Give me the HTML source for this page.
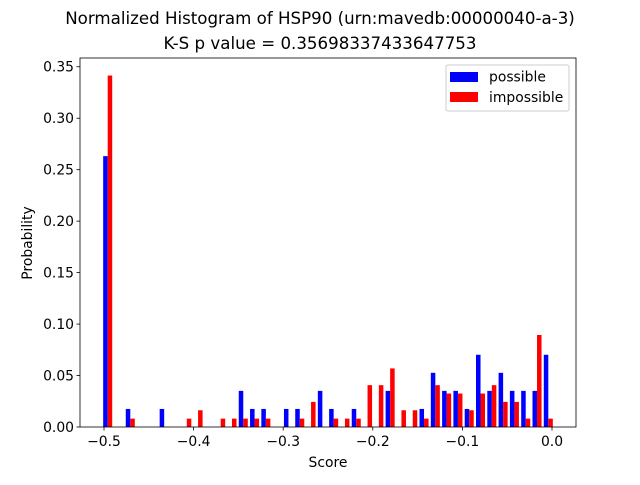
<!DOCTYPE html>
<html><head><meta charset="utf-8"><style>
body{margin:0;background:#fff;}
svg text{font-family:"DejaVu Sans","Liberation Sans",sans-serif;}
</style></head><body>
<svg id="chart" width="640" height="480" xmlns="http://www.w3.org/2000/svg">
<rect width="640" height="480" fill="#fff"/>
<text x="320" y="24" text-anchor="middle" font-size="16.67">Normalized Histogram of HSP90 (urn:mavedb:00000040-a-3)</text>
<text x="320" y="49" text-anchor="middle" font-size="16.67">K-S p value = 0.35698337433647753</text>
<g id="bars"></g>
<g id="axes"></g>
<text x="328" y="467" text-anchor="middle" font-size="13.9">Score</text>
<text x="32" y="243" text-anchor="middle" font-size="13.9" transform="rotate(-90 32 243)">Probability</text>
<g>
<rect x="446" y="65" width="123" height="46" rx="2" fill="#fff" fill-opacity="0.8" stroke="#ccc"/>
<rect x="450" y="72" width="28" height="10" fill="#0000ff"/>
<text x="489" y="81.5" font-size="13.9">possible</text>
<rect x="450" y="92" width="28" height="10" fill="#ff0000"/>
<text x="489" y="102" font-size="13.9">impossible</text>
</g>
</svg>
<script>
const binStart = -0.5022;
const binEnd = 0.0022;
const possibleCounts = [15,0,1,0,0,1,0,0,0,0,0,0,2,1,1,0,1,1,0,2,1,0,1,0,0,2,0,0,1,3,2,2,1,4,2,3,2,2,2,4];
const impossibleCounts = [42,0,1,0,0,0,0,1,2,0,1,1,1,1,1,0,0,1,3,0,1,1,1,5,5,7,2,2,1,5,4,4,2,4,5,3,3,1,11,1];
const yTicks = [0,0.05,0.10,0.15,0.20,0.25,0.30,0.35];
const yTickLabels = ["0.00","0.05","0.10","0.15","0.20","0.25","0.30","0.35"];
const xTicks = [-0.5,-0.4,-0.3,-0.2,-0.1,0.0];
const xTickLabels = ["\u22120.5","\u22120.4","\u22120.3","\u22120.2","\u22120.1","0.0"];

const L=80,R=576,T=58,B=427;
const xMin=-0.5268,xMax=0.0268,yMin=0,yMax=0.3585;
const sx=v=>L+(v-xMin)/(xMax-xMin)*(R-L);
const sy=v=>B-(v-yMin)/(yMax-yMin)*(B-T);
const NS="http://www.w3.org/2000/svg";
function mk(tag,attrs,parent){const e=document.createElementNS(NS,tag);for(const k in attrs)e.setAttribute(k,attrs[k]);parent.appendChild(e);return e;}
const bars=document.getElementById('bars'),axes=document.getElementById('axes');
const n=possibleCounts.length,bw=(binEnd-binStart)/n;
const sumP=possibleCounts.reduce((a,b)=>a+b,0),sumI=impossibleCounts.reduce((a,b)=>a+b,0);
for(let i=0;i<n;i++){
  const x0=binStart+i*bw;
  const series=[[possibleCounts[i]/sumP,'#0000ff','possible',0.1],[impossibleCounts[i]/sumI,'#ff0000','impossible',0.5]];
  for(const [v,c,name,off] of series){
    if(v<=0)continue;
    const xa=sx(x0+off*bw),xb=sx(x0+(off+0.4)*bw);
    const r=mk('rect',{x:xa,y:sy(v),width:xb-xa,height:sy(0)-sy(v),fill:c},bars);
    
    
  }
}
const frame=mk('rect',{x:L,y:T,width:R-L,height:B-T,fill:'none',stroke:'#000','stroke-width':0.8},axes);


yTicks.forEach((v,i)=>{
  const y=sy(v);
  mk('line',{x1:L-3.5,x2:L,y1:y,y2:y,stroke:'#000','stroke-width':0.8},axes);
  const t=mk('text',{x:L-6,y:y+5,'text-anchor':'end','font-size':13.9},axes);
  t.textContent=yTickLabels[i];
  
  
});
xTicks.forEach((v,i)=>{
  const x=sx(v);
  mk('line',{x1:x,x2:x,y1:B,y2:B+3.5,stroke:'#000','stroke-width':0.8},axes);
  const t=mk('text',{x:x,y:B+19,'text-anchor':'middle','font-size':13.9},axes);
  t.textContent=xTickLabels[i];
  
  
});
</script>
</body></html>
